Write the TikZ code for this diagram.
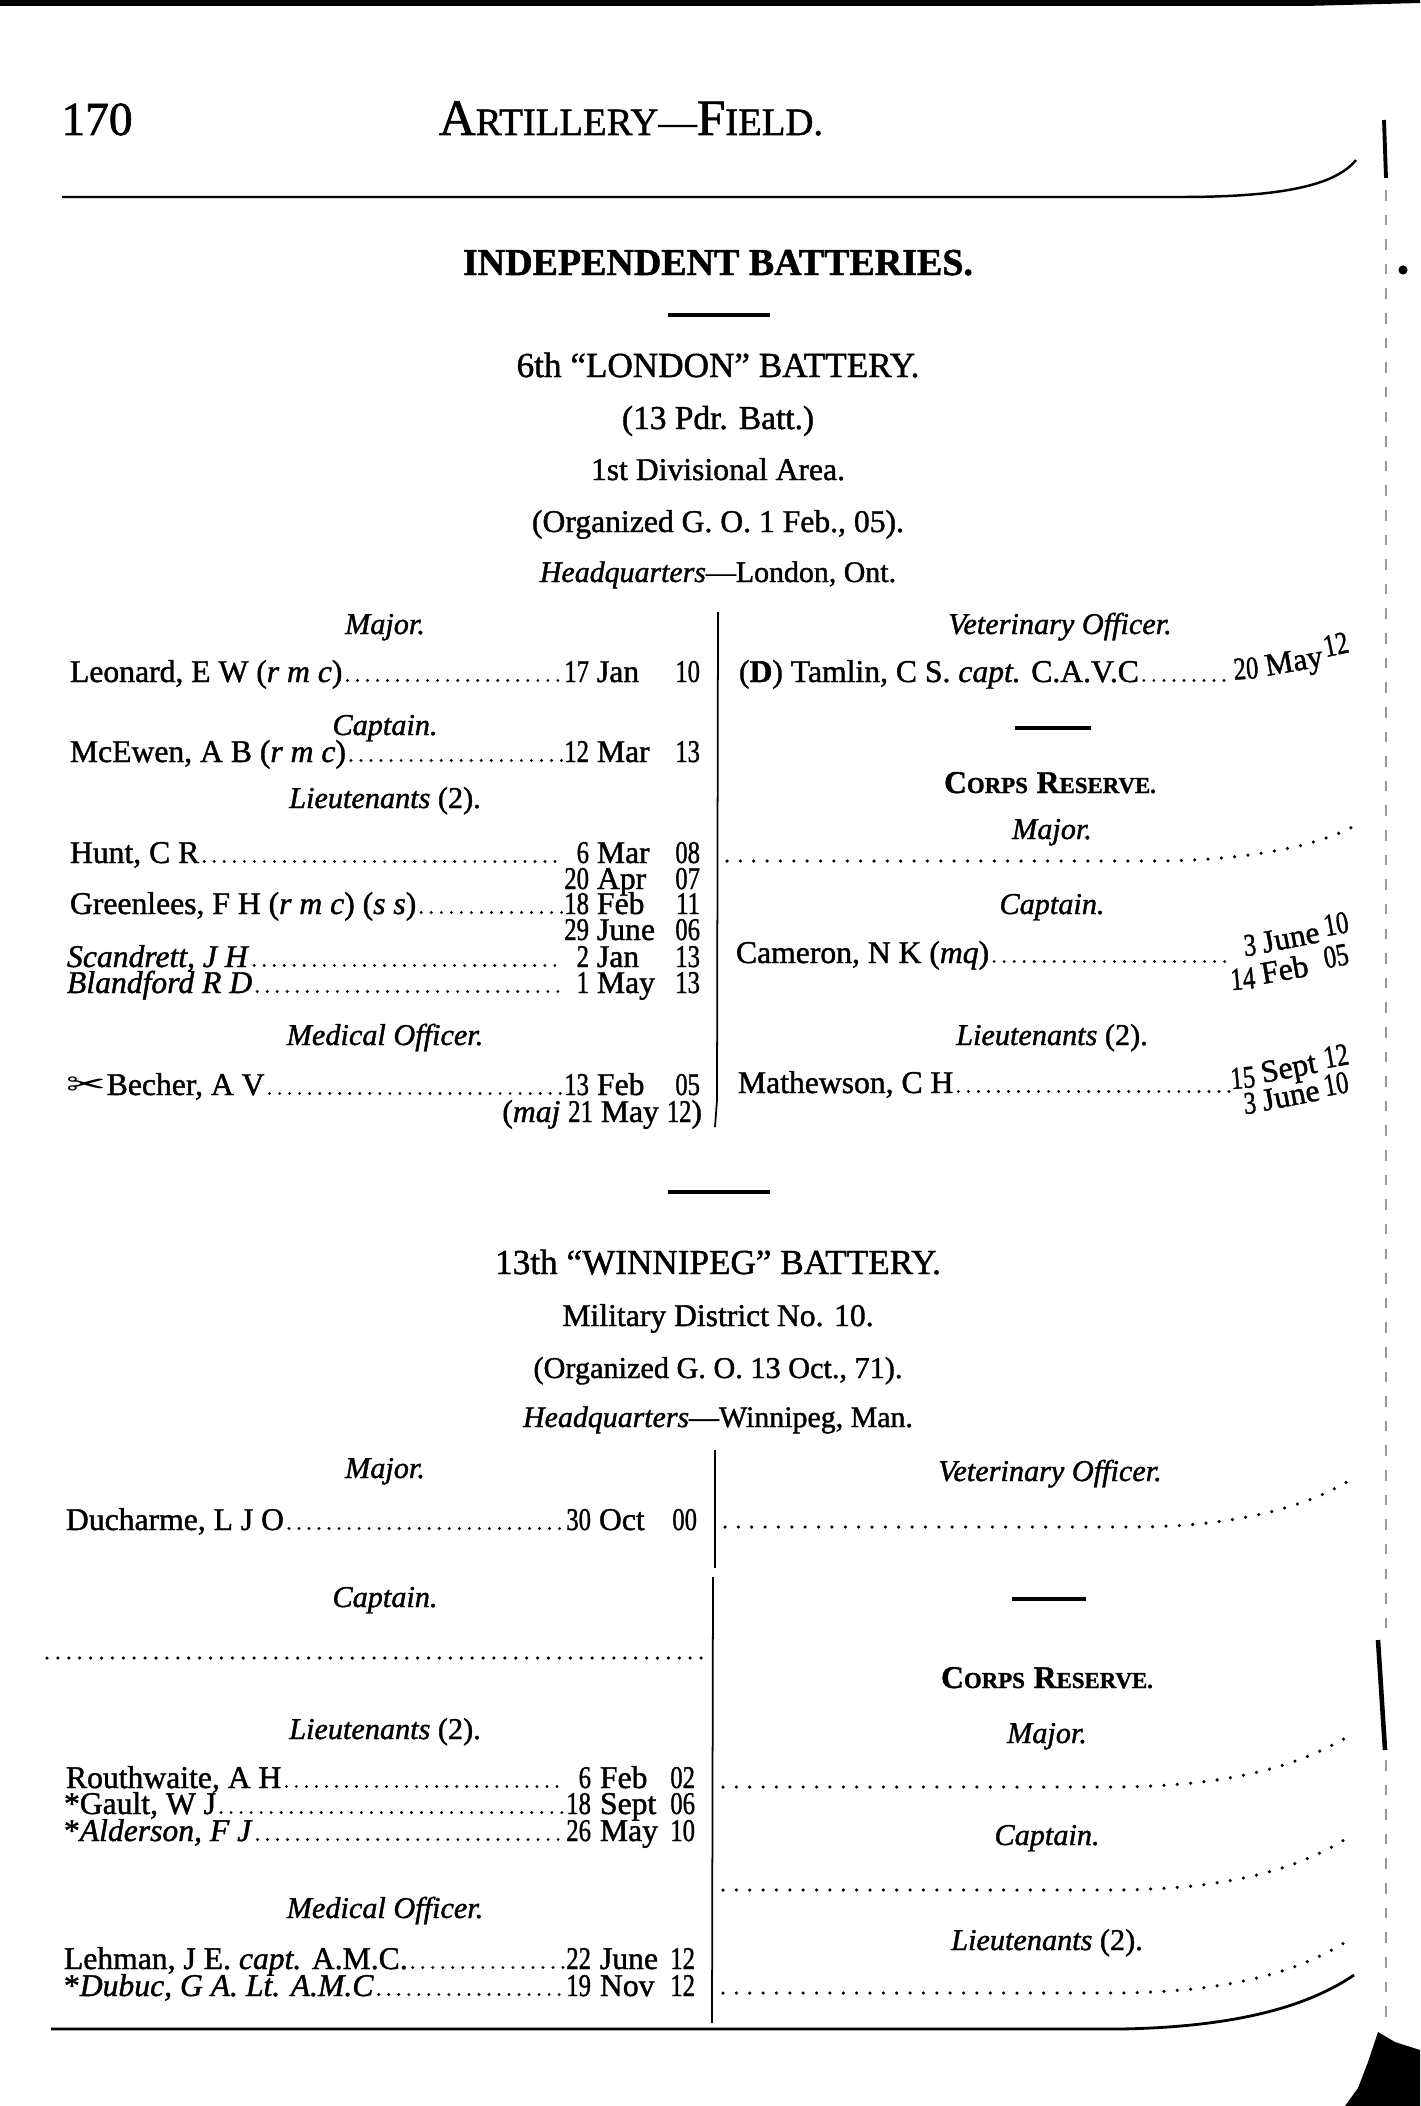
\documentclass[tikz,border=0pt]{standalone}
\usepackage{fontspec}
\setmainfont{Liberation Serif}[FakeBold=1.3]
\newfontfamily\dejavu{DejaVu Sans}
\usepackage{graphicx}
\usetikzlibrary{calc}
\newcommand\entfont{\fontsize{9}{10}\selectfont}
\newcommand\hdfont{\fontsize{8.6}{10}\selectfont\itshape}
\newcommand\dg[1]{\scalebox{0.78}[1]{#1}}
\newcommand\scA[2]{{\fontsize{14.5}{16}\selectfont #1}{\fontsize{11}{13}\selectfont #2}}
\newcommand\scB[2]{{\fontsize{9}{10}\selectfont #1}{\fontsize{6.5}{8}\selectfont #2}}
\begin{document}
\begin{tikzpicture}[x=0.01cm,y=-0.01cm,
  every node/.style={inner sep=0pt,outer sep=0pt},
  ent/.style={anchor=base west,font=\entfont},
  dayn/.style={anchor=base east,font=\entfont},
  monn/.style={anchor=base west,font=\entfont},
  yrn/.style={anchor=base east,font=\entfont},
  hd/.style={anchor=base,font=\hdfont},
  ctr/.style={anchor=base},
  leader/.style={line width=0.9pt,line cap=round,dash pattern=on 0pt off 2.85pt},
  blankl/.style={line width=1pt,line cap=round,dash pattern=on 0pt off 3.1pt},
  blankr/.style={line width=1pt,line cap=round,dash pattern=on 0pt off 3.8pt},
  rulel/.style={line width=0.9pt},
  divider/.style={line width=0.5pt},
  pageedge/.style={line width=0.4pt,black!40,dash pattern=on 3pt off 4pt}]
\useasboundingbox (0,0) rectangle (1420,2106);

% scan marks
\fill (0,0) -- (1420,0) -- (1420,3) -- (1305,6) -- (0,6) -- cycle;
\draw[pageedge] (1386,190) -- (1386,1630);
\draw[pageedge] (1386,1760) -- (1386,2020);
\draw[line width=1.1pt] (1384,120) -- (1386,178);
\draw[line width=1.3pt] (1378,1640) -- (1385,1750);
\fill (1403,270) circle[radius=1.3pt];
\fill (1378,2032) -- (1395,2042) -- (1420,2050) -- (1420,2106) -- (1345,2106) -- (1358,2088) -- (1368,2062) -- cycle;

% running head
\node[ctr,font=\fontsize{13.5}{15}\selectfont] (pg) at (97,135) {170};
\node[ctr] (title) at (631,135) {\scA{A}{RTILLERY}{\fontsize{11}{13}\selectfont—}\scA{F}{IELD.}};
\draw[line width=0.7pt] (62,197) -- (1180,197) .. controls (1280,197) and (1335,186) .. (1356,160);

% ---------- 6th London ----------
\node[ctr,font=\fontsize{10.8}{12}\selectfont\bfseries] (ib) at (718,275) {INDEPENDENT BATTERIES.};
\draw[rulel] (668,315) -- (770,315);
\node[ctr,font=\fontsize{10}{12}\selectfont] (b1) at (718,377) {6th “LONDON” BATTERY.};
\node[ctr,font=\fontsize{9.5}{11}\selectfont] (b1a) at (718,429) {(13 Pdr. Batt.)};
\node[ctr,font=\fontsize{9}{11}\selectfont] (b1b) at (718,480) {1st Divisional Area.};
\node[ctr,font=\fontsize{9}{11}\selectfont] (b1c) at (718,532) {(Organized G. O. 1 Feb., 05).};
\node[ctr,font=\fontsize{8.5}{10}\selectfont] (b1d) at (718,582) {\textit{Headquarters}—London, Ont.};

\draw[divider] (718,612) -- (717,1100) -- (715,1127);

% left column
\node[hd] (hA1) at (385,634) {Major.};
\node[ent] (n1) at (70,682) {Leonard, E W (\textit{r m c})};
\node[dayn] (d1) at (589,682) {\dg{17}};
\node[monn] (m1) at (597,682) {Jan};
\node[yrn] (y1) at (700,682) {\dg{10}};
\draw[leader] ($(n1.base east)+(5,-1.5)$) -- ($(d1.base west)+(-2,-1.5)$);

\node[hd] (hA2) at (385,735) {Captain.};
\node[ent] (n2) at (70,762) {McEwen, A B (\textit{r m c})};
\node[dayn] (d2) at (589,762) {\dg{12}};
\node[monn] (m2) at (597,762) {Mar};
\node[yrn] (y2) at (700,762) {\dg{13}};
\draw[leader] ($(n2.base east)+(5,-1.5)$) -- ($(d2.base west)+(-2,-1.5)$);

\node[hd] (hA3) at (385,808) {Lieutenants \upshape(2).};
\node[ent] (n3) at (70,863) {Hunt, C R};
\node[dayn] (d3) at (589,863) {\dg{\phantom{0}6}};
\node[monn] (m3) at (597,863) {Mar};
\node[yrn] (y3) at (700,863) {\dg{08}};
\draw[leader] ($(n3.base east)+(5,-1.5)$) -- ($(d3.base west)+(-4,-1.5)$);
\node[dayn] (d4) at (589,889) {\dg{20}};
\node[monn] (m4) at (597,889) {Apr};
\node[yrn] (y4) at (700,889) {\dg{07}};
\node[ent] (n5) at (70,914) {Greenlees, F H (\textit{r m c}) (\textit{s s})};
\node[dayn] (d5) at (589,914) {\dg{18}};
\node[monn] (m5) at (597,914) {Feb};
\node[yrn] (y5) at (700,914) {\dg{11}};
\draw[leader] ($(n5.base east)+(5,-1.5)$) -- ($(d5.base west)+(-2,-1.5)$);
\node[dayn] (d6) at (589,940) {\dg{29}};
\node[monn] (m6) at (597,940) {June};
\node[yrn] (y6) at (700,940) {\dg{06}};
\node[ent] (n7) at (67,967) {\textit{Scandrett, J H}};
\node[dayn] (d7) at (589,967) {\dg{\phantom{0}2}};
\node[monn] (m7) at (597,967) {Jan};
\node[yrn] (y7) at (700,967) {\dg{13}};
\draw[leader] ($(n7.base east)+(5,-1.5)$) -- ($(d7.base west)+(-4,-1.5)$);
\node[ent] (n8) at (67,993) {\textit{Blandford R D}};
\node[dayn] (d8) at (589,993) {\dg{\phantom{0}1}};
\node[monn] (m8) at (597,993) {May};
\node[yrn] (y8) at (700,993) {\dg{13}};
\draw[leader] ($(n8.base east)+(5,-1.5)$) -- ($(d8.base west)+(-4,-1.5)$);

\node[hd] (hA4) at (385,1045) {Medical Officer.};
\node[ent] (n9) at (67,1095) {{\dejavu\scalebox{1.5}[1]{✂}}Becher, A V};
\node[dayn] (d9) at (589,1095) {\dg{13}};
\node[monn] (m9) at (597,1095) {Feb};
\node[yrn] (y9) at (700,1095) {\dg{05}};
\draw[leader] ($(n9.base east)+(5,-1.5)$) -- ($(d9.base west)+(-2,-1.5)$);
\node[anchor=base east,font=\entfont] (n10) at (702,1122) {(\textit{maj} \dg{21} May \dg{12})};

% right column
\node[hd] (hB1) at (1060,634) {Veterinary Officer.};
\node[ent] (r1n) at (739,682) {(\textbf{D}) Tamlin, C S. \textit{capt.} C.A.V.C};
\node[dayn,rotate=4] (r1d) at (1259,678) {\dg{20}};
\node[monn,rotate=10] (r1m) at (1267,676) {May};
\node[yrn,rotate=12] (r1y) at (1350,652) {\dg{12}};
\draw[leader] ($(r1n.base east)+(5,-1.5)$) -- ($(r1n.base east -| r1d.base west)+(-2,-1.5)$);

\draw[rulel] (1015,728) -- (1091,728);
\node[ctr,font=\bfseries] (cr1) at (1050,793) {\scB{C}{ORPS} \scB{R}{ESERVE.}};
\node[hd] (hB2) at (1052,839) {Major.};
\draw[blankr] (727,861) -- (1150,861) .. controls (1250,861) and (1320,845) .. (1354,826);

\node[hd] (hB3) at (1052,914) {Captain.};
\node[ent] (r2n) at (736,963) {Cameron, N K (\textit{mq})};
\node[dayn,rotate=5] (r2d) at (1257,955) {\dg{\phantom{0}3}};
\node[monn,rotate=11] (r2m) at (1264,953) {June};
\node[yrn,rotate=10] (r2y) at (1350,932) {\dg{10}};
\node[dayn,rotate=5] (r2e) at (1256,988) {\dg{14}};
\node[monn,rotate=10] (r2f) at (1263,984) {Feb};
\node[yrn,rotate=10] (r2g) at (1350,964) {\dg{05}};
\draw[leader] ($(r2n.base east)+(5,-1.5)$) -- ($(r2n.base east -| r2e.base west)+(-2,-1.5)$);

\node[hd] (hB4) at (1052,1045) {Lieutenants \upshape(2).};
\node[ent] (r3n) at (738,1093) {Mathewson, C H};
\node[dayn,rotate=5] (r3d) at (1256,1087) {\dg{15}};
\node[monn,rotate=11] (r3m) at (1263,1083) {Sept};
\node[yrn,rotate=10] (r3y) at (1350,1064) {\dg{12}};
\node[dayn,rotate=5] (r3e) at (1257,1113) {\dg{\phantom{0}3}};
\node[monn,rotate=11] (r3f) at (1264,1111) {June};
\node[yrn,rotate=10] (r3g) at (1350,1092) {\dg{10}};
\draw[leader] ($(r3n.base east)+(5,-1.5)$) -- ($(r3n.base east -| r3d.base west)+(-2,-1.5)$);

% ---------- 13th Winnipeg ----------
\draw[rulel] (668,1192) -- (770,1192);
\node[ctr,font=\fontsize{10}{12}\selectfont] (b2) at (718,1274) {13th “WINNIPEG” BATTERY.};
\node[ctr,font=\fontsize{9}{11}\selectfont] (b2a) at (718,1326) {Military District No. 10.};
\node[ctr,font=\fontsize{8.6}{10}\selectfont] (b2b) at (718,1378) {(Organized G. O. 13 Oct., 71).};
\node[ctr,font=\fontsize{8.5}{10}\selectfont] (b2c) at (718,1427) {\textit{Headquarters}—Winnipeg, Man.};

\draw[divider] (715,1450) -- (715,1568);
\draw[divider] (713,1577) -- (712,2023);

% left column
\node[hd] (hC1) at (385,1478) {Major.};
\node[ent] (s1) at (66,1530) {Ducharme, L J O};
\node[dayn] (e1) at (591,1530) {\dg{30}};
\node[monn] (f1) at (599,1530) {Oct};
\node[yrn] (g1) at (697,1530) {\dg{00}};
\draw[leader] ($(s1.base east)+(5,-1.5)$) -- ($(e1.base west)+(-2,-1.5)$);

\node[hd] (hC2) at (385,1607) {Captain.};
\draw[blankl] (47,1658) -- (705,1658);

\node[hd] (hC3) at (385,1739) {Lieutenants \upshape(2).};
\node[ent] (s2) at (66,1788) {Routhwaite, A H};
\node[dayn] (e2) at (591,1788) {\dg{\phantom{0}6}};
\node[monn] (f2) at (600,1788) {Feb};
\node[yrn] (g2) at (695,1788) {\dg{02}};
\draw[leader] ($(s2.base east)+(5,-1.5)$) -- ($(e2.base west)+(-4,-1.5)$);
\node[ent] (s3) at (64,1814) {*Gault, W J};
\node[dayn] (e3) at (591,1814) {\dg{18}};
\node[monn] (f3) at (600,1814) {Sept};
\node[yrn] (g3) at (695,1814) {\dg{06}};
\draw[leader] ($(s3.base east)+(5,-1.5)$) -- ($(e3.base west)+(-2,-1.5)$);
\node[ent] (s4) at (64,1841) {*\textit{Alderson, F J}};
\node[dayn] (e4) at (591,1841) {\dg{26}};
\node[monn] (f4) at (600,1841) {May};
\node[yrn] (g4) at (695,1841) {\dg{10}};
\draw[leader] ($(s4.base east)+(5,-1.5)$) -- ($(e4.base west)+(-2,-1.5)$);

\node[hd] (hC4) at (385,1918) {Medical Officer.};
\node[ent] (s5) at (64,1969) {Lehman, J E. \textit{capt.} A.M.C.};
\node[dayn] (e5) at (591,1969) {\dg{22}};
\node[monn] (f5) at (600,1969) {June};
\node[yrn] (g5) at (695,1969) {\dg{12}};
\draw[leader] ($(s5.base east)+(5,-1.5)$) -- ($(e5.base west)+(-2,-1.5)$);
\node[ent] (s6) at (64,1996) {*\textit{Dubuc, G A. Lt. A.M.C}};
\node[dayn] (e6) at (591,1996) {\dg{19}};
\node[monn] (f6) at (600,1996) {Nov};
\node[yrn] (g6) at (695,1996) {\dg{12}};
\draw[leader] ($(s6.base east)+(5,-1.5)$) -- ($(e6.base west)+(-2,-1.5)$);

% right column
\node[hd] (hD1) at (1050,1481) {Veterinary Officer.};
\draw[blankr] (725,1527) -- (1130,1527) .. controls (1240,1527) and (1310,1505) .. (1350,1480);
\draw[rulel] (1012,1599) -- (1086,1599);
\node[ctr,font=\bfseries] (cr2) at (1047,1688) {\scB{C}{ORPS} \scB{R}{ESERVE.}};
\node[hd] (hD2) at (1047,1743) {Major.};
\draw[blankr] (723,1787) -- (1110,1787) .. controls (1230,1787) and (1300,1765) .. (1347,1737);
\node[hd] (hD3) at (1047,1845) {Captain.};
\draw[blankr] (723,1890) -- (1110,1890) .. controls (1230,1890) and (1300,1868) .. (1347,1838);
\node[hd] (hD4) at (1047,1950) {Lieutenants \upshape(2).};
\draw[blankr] (723,1993) -- (1110,1993) .. controls (1230,1993) and (1300,1971) .. (1347,1941);

% bottom rule
\draw[line width=0.8pt] (51,2029) -- (1120,2029) .. controls (1240,2027) and (1310,2005) .. (1354,1975);
\end{tikzpicture}
\end{document}
